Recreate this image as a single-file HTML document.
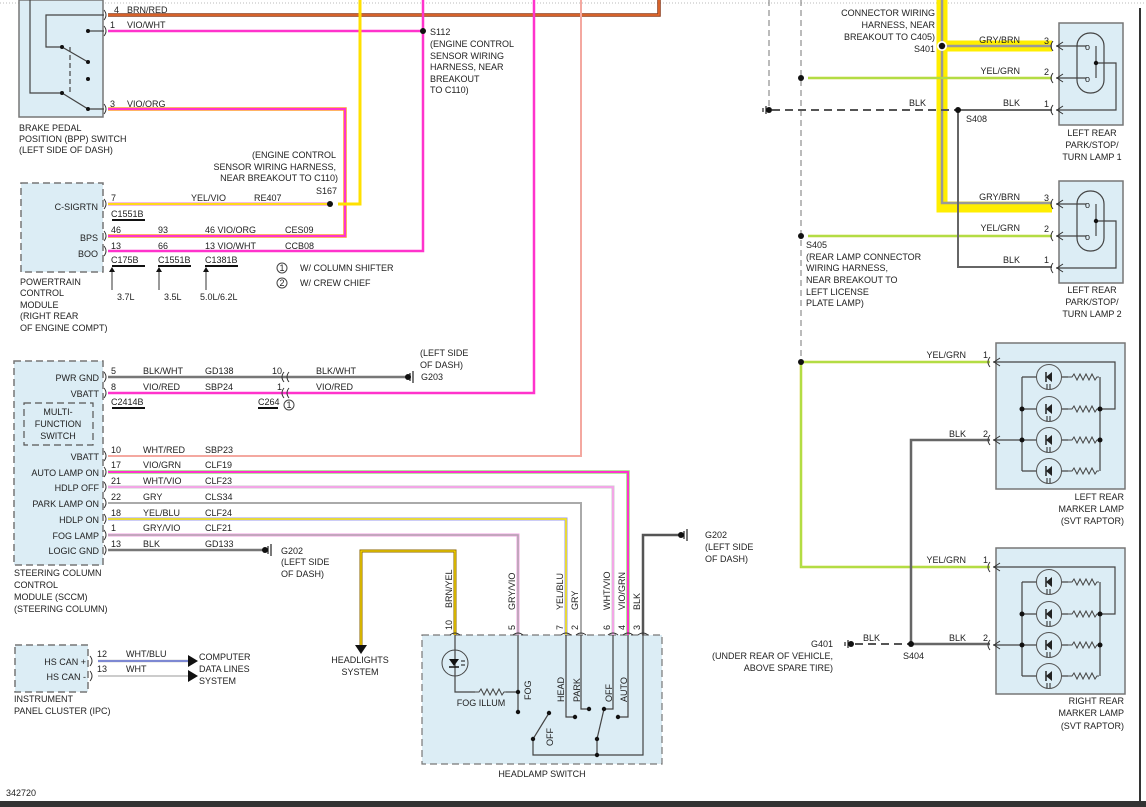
<!DOCTYPE html>
<html><head><meta charset="utf-8"><style>
html,body{margin:0;padding:0;background:#fff;}
svg{display:block;}
text{font-family:"Liberation Sans",Arial,sans-serif;font-size:9px;fill:#222;}
</style></head><body>
<svg width="1146" height="807" viewBox="0 0 1146 807" xmlns="http://www.w3.org/2000/svg">
<defs>
<g id="led">
 <circle cx="0" cy="0" r="12.5" fill="none" stroke="#555" stroke-width="1"/>
 <path d="M3,-5 L-3,0 L3,5 Z" fill="#222"/><line x1="-3" y1="-5" x2="-3" y2="5" stroke="#222" stroke-width="1.5"/>
 <path d="M-2,7 v5 M1,7 v5" stroke="#222" stroke-width="1"/>
</g>
<g id="res"><path d="M0,0 h4 l2,-3 l3,6 l3,-6 l3,6 l3,-6 l3,6 l3,-6 l3,6 l2,-3 h2" fill="none" stroke="#444" stroke-width="1"/></g>
<g id="marker">
 <rect x="0" y="0" width="129" height="146" fill="#dcedf5" stroke="#777" stroke-width="1.5"/>
 <g stroke="#444" stroke-width="1.2" fill="none">
  <path d="M-3,19 H119 V66 H104"/>
  <path d="M-3,97 H26"/>
  <path d="M26,34 V128 M104,34 V128"/>
  <path d="M26,34 H40 M26,66 H40 M26,97 H40 M26,128 H40"/>
  <path d="M66,34 H72 M66,66 H72 M66,97 H72 M66,128 H72"/>
 </g>
 <use href="#led" x="53" y="34"/><use href="#led" x="53" y="66"/><use href="#led" x="53" y="97"/><use href="#led" x="53" y="128"/>
 <use href="#res" x="72" y="34"/><use href="#res" x="72" y="66"/><use href="#res" x="72" y="97"/><use href="#res" x="72" y="128"/>
 <circle cx="26" cy="66" r="2.5" fill="#111"/><circle cx="26" cy="97" r="2.5" fill="#111"/>
 <circle cx="104" cy="66" r="2.5" fill="#111"/><circle cx="104" cy="97" r="2.5" fill="#111"/>
 <path d="M4,15 l-6,4 l6,4 M-6,14 q-4,5 0,10 M4,93 l-6,4 l6,4 M-6,92 q-4,5 0,10" fill="none" stroke="#333" stroke-width="1"/>
</g>
<g id="park">
 <rect x="0" y="0" width="64" height="102" fill="#dcedf5" stroke="#777" stroke-width="1.5"/>
 <rect x="18" y="10" width="27" height="60" rx="13" fill="none" stroke="#444" stroke-width="1.2"/>
 <g stroke="#444" stroke-width="1.2" fill="none">
  <path d="M-3,23 H27 M-3,55 H27 M-3,87 H57 V40 H37"/><path d="M37,23 V55"/>
 </g>
 <text x="26" y="27" font-size="10">o</text><text x="26" y="59" font-size="10">o</text>
 <circle cx="37" cy="40" r="2.2" fill="#111"/>
 <path d="M4,19 l-6,4 l6,4 M-6,18 q-4,5 0,10 M4,51 l-6,4 l6,4 M-6,50 q-4,5 0,10 M4,83 l-6,4 l6,4 M-6,82 q-4,5 0,10" fill="none" stroke="#333" stroke-width="1"/>
</g>
</defs>

<line x1="0" y1="3" x2="1146" y2="3" stroke="#bbb" stroke-dasharray="1,2"/>
<rect x="0" y="801" width="1146" height="6" fill="#333"/>
<line x1="1140" y1="8" x2="1140" y2="801" stroke="#333" stroke-width="2"/>

<!-- boxes -->
<rect x="19" y="0" width="84" height="117" fill="#dcedf5" stroke="#777" stroke-width="1.5"/>
<rect x="21" y="183" width="82" height="89" fill="#dcedf5" stroke="#777" stroke-width="1.5" stroke-dasharray="7,4"/>
<rect x="14" y="361" width="89" height="204" fill="#dcedf5" stroke="#777" stroke-width="1.5" stroke-dasharray="7,4"/>
<rect x="24" y="403" width="69" height="42" fill="#dcedf5" stroke="#555" stroke-width="1.2" stroke-dasharray="7,4"/>
<rect x="15" y="645" width="73" height="47" fill="#dcedf5" stroke="#777" stroke-width="1.5" stroke-dasharray="7,4"/>
<rect x="422" y="635" width="240" height="129" fill="#dcedf5" stroke="#777" stroke-width="1.2" stroke-dasharray="7,4"/>

<!-- BPP switch internals -->
<g stroke="#444" stroke-width="1.2" fill="none">
 <path d="M30,0 V93 H62 L88,109 H104"/>
 <path d="M104,15 H46 V47 H62 L88,62"/>
 <path d="M88,31 H104"/>
 <path d="M70,47 V93" stroke-dasharray="5,3"/>
</g>
<g fill="#111"><circle cx="62" cy="47" r="2"/><circle cx="88" cy="62" r="2"/><circle cx="88" cy="79" r="2"/><circle cx="62" cy="93" r="2"/><circle cx="88" cy="109" r="2"/><circle cx="88" cy="31" r="2"/></g>

<!-- wires top -->
<g fill="none" stroke-linejoin="miter">
 <path d="M108,15 H659 V0" stroke="#8b3a1a" stroke-width="3.5"/><path d="M108,15 H659 V0" stroke="#f07030" stroke-width="1.5"/>
 <path d="M108,31 H423" stroke="#ff33cc" stroke-width="2.5"/>
 <path d="M423,0 V251 H108" stroke="#ff33cc" stroke-width="2.5"/>
 <path d="M108,109 H345 V236 H108" stroke="#ff9a30" stroke-width="3.5"/><path d="M108,109 H345 V236 H108" stroke="#ff33cc" stroke-width="2"/>
 <path d="M360,0 V204 H338" stroke="#ffe000" stroke-width="3"/>
 <path d="M108,204 H330" stroke="#f4a4d8" stroke-width="3.5"/><path d="M108,204 H330" stroke="#ffe000" stroke-width="1.8"/>
 <path d="M534,0 V393 H108" stroke="#ff33cc" stroke-width="2.5"/>
 <path d="M581,0 V456 H108" stroke="#f4a8a0" stroke-width="2"/>
 <path d="M108,472 H628 V635" stroke="#9adf7a" stroke-width="3.5"/><path d="M108,472 H628 V635" stroke="#ff33cc" stroke-width="2"/>
 <path d="M108,487 H613 V635" stroke="#ccc" stroke-width="3"/><path d="M108,487 H613 V635" stroke="#ff99ee" stroke-width="1.5"/>
 <path d="M108,503 H581 V635" stroke="#aaa" stroke-width="2"/>
 <path d="M108,519 H566 V635" stroke="#9999ee" stroke-width="3"/><path d="M108,519 H566 V635" stroke="#ffee00" stroke-width="1.5"/>
 <path d="M108,535 H518 V635" stroke="#f0a0e0" stroke-width="3"/><path d="M108,535 H518 V635" stroke="#aaa" stroke-width="1.3"/>
 <path d="M108,550 H264" stroke="#777" stroke-width="2.5"/>
 <path d="M108,377 H406" stroke="#777" stroke-width="2.5"/>
 <path d="M455,635 V551 H361 V645" stroke="#886600" stroke-width="3"/><path d="M455,635 V551 H361 V645" stroke="#ffdd00" stroke-width="1.3"/>
 <path d="M643,635 V535 H680" stroke="#555" stroke-width="2.5"/>
 <path d="M98,661 H190" stroke="#ddd" stroke-width="3"/><path d="M98,661 H190" stroke="#4455cc" stroke-width="1.2"/>
 <path d="M98,676 H190" stroke="#ccc" stroke-width="2"/>
</g>
<path d="M355,645 h12 l-6,9 z" fill="#111"/>
<path d="M188,655 l10,6 l-10,6 z M188,670 l10,6 l-10,6 z" fill="#111"/>
<circle cx="423" cy="31" r="3" fill="#111"/><circle cx="330" cy="204" r="3" fill="#111"/>

<!-- connector marks left -->
<g fill="none" stroke="#333" stroke-width="1">
 <path d="M104,10 q4,5 0,10 M104,26 q4,5 0,10 M104,104 q4,5 0,10 M104,199 q4,5 0,10 M104,231 q4,5 0,10 M104,246 q4,5 0,10
 M104,372 q4,5 0,10 M104,388 q4,5 0,10 M104,451 q4,5 0,10 M104,467 q4,5 0,10 M104,482 q4,5 0,10 M104,498 q4,5 0,10 M104,514 q4,5 0,10 M104,530 q4,5 0,10 M104,545 q4,5 0,10 M90,656 q4,5 0,10 M90,671 q4,5 0,10"/>
 <path d="M284,372 q-4,5 0,10 M289,372 q-4,5 0,10 M284,388 q-4,5 0,10 M289,388 q-4,5 0,10"/>
 <path d="M450,635 q5,-4 10,0 M513,635 q5,-4 10,0 M561,635 q5,-4 10,0 M576,635 q5,-4 10,0 M608,635 q5,-4 10,0 M623,635 q5,-4 10,0 M638,635 q5,-4 10,0"/>
 <path d="M112,290 V268 M159,290 V268 M206,290 V268"/>
</g>
<path d="M109,267 l3,5 h-6z M156,267 l3,5 h-6z M203,267 l3,5 h-6z" fill="#111" transform="translate(3,0)"/>
<g stroke="#111" stroke-width="2"><path d="M112,220 h33 M158,266 h33 M112,266 h33 M205,266 h33 M112,408 h33 M258,408 h20"/></g>
<!-- grounds -->
<g stroke="#222" stroke-width="1.2"><path d="M410,373 v8 M413,371 v12 M268,546 v8 M271,544 v12 M684,531 v8 M687,529 v12 M766,106 v8 M763,108 v4 M848,640 v8 M845,642 v4"/></g>
<circle cx="408" cy="377" r="3" fill="#111"/><circle cx="265" cy="550" r="3" fill="#111"/><circle cx="681" cy="535" r="3" fill="#111"/><circle cx="769" cy="110" r="3" fill="#111"/><circle cx="851" cy="644" r="3" fill="#111"/>
<circle cx="289" cy="405" r="5" fill="#fff" stroke="#444"/><text x="286.5" y="408" font-size="8">1</text>
<circle cx="282" cy="268" r="5" fill="#fff" stroke="#444"/><text x="279.5" y="271" font-size="8">1</text>
<circle cx="282" cy="283" r="5" fill="#fff" stroke="#444"/><text x="279.5" y="286" font-size="8">2</text>

<!-- headlamp switch internals -->
<g stroke="#444" stroke-width="1.2" fill="none">
 <path d="M455,635 V692 H475"/><use href="#res" x="475" y="692"/><path d="M506,692 H518"/>
 <path d="M518,635 V712 M566,635 V717 H575 M581,635 V709 H589 M613,635 V709 H604 M628,635 V717 H618 M643,635 V755 H533 V739 L549,713 M597,755 V739 L604,709"/>
</g>
<circle cx="455" cy="663" r="13" fill="none" stroke="#444"/>
<path d="M449,659 h10 l-5,7z" fill="#111"/><path d="M449,667 h10" stroke="#111" stroke-width="1.5"/><path d="M461,661 h4 M461,665 h4" stroke="#111"/>
<g fill="#111"><circle cx="518" cy="692" r="2.2"/><circle cx="518" cy="712" r="2.2"/><circle cx="575" cy="717" r="2.2"/><circle cx="589" cy="709" r="2.2"/><circle cx="604" cy="709" r="2.2"/><circle cx="618" cy="717" r="2.2"/><circle cx="533" cy="739" r="2.2"/><circle cx="549" cy="713" r="2.2"/><circle cx="597" cy="739" r="2.2"/><circle cx="597" cy="755" r="2.2"/></g>

<!-- right section -->
<g fill="none">
 <path d="M769,0 V110" stroke="#777" stroke-dasharray="6,4"/>
 <path d="M801,0 V362" stroke="#777" stroke-dasharray="6,4"/>
 <path d="M942,0 V207 H1052 M942,46 H1052" stroke="#ffee00" stroke-width="11"/>
 <path d="M942,0 V203 H1052 M942,46 H1052" stroke="#999" stroke-width="2.5"/>
 <path d="M808,78 H1052 M808,236 H1052 M801,362 H990 M801,362 V567 H990" stroke="#cccc22" stroke-width="2.5"/>
 <path d="M808,78 H1052 M808,236 H1052 M801,362 H990 M801,362 V567 H990" stroke="#99ee66" stroke-width="1"/>
 <path d="M772,110 H958" stroke="#555" stroke-width="2" stroke-dasharray="8,5"/>
 <path d="M958,110 H1052 M958,110 V267 H1052" stroke="#666" stroke-width="2"/>
 <path d="M855,644 H911" stroke="#555" stroke-width="2" stroke-dasharray="8,5"/>
 <path d="M911,644 H990 M911,644 V440 H990" stroke="#666" stroke-width="2.5"/>
</g>
<circle cx="942" cy="46" r="5" fill="#fff"/><circle cx="942" cy="46" r="3.2" fill="#111"/>
<g fill="#111"><circle cx="801" cy="78" r="3"/><circle cx="801" cy="236" r="3"/><circle cx="801" cy="362" r="3"/><circle cx="958" cy="110" r="3"/><circle cx="911" cy="644" r="3"/></g>
<use href="#park" x="1059" y="23"/><use href="#park" x="1059" y="181"/>
<use href="#marker" x="996" y="343"/><use href="#marker" x="996" y="548"/>

<!-- labels -->
<text x="114" y="13">4</text><text x="127" y="13">BRN/RED</text>
<text x="110" y="28">1</text><text x="127" y="28">VIO/WHT</text>
<text x="110" y="107">3</text><text x="127" y="107">VIO/ORG</text>
<text x="19" y="131">BRAKE PEDAL</text><text x="19" y="142">POSITION (BPP) SWITCH</text><text x="19" y="153">(LEFT SIDE OF DASH)</text>
<text x="430" y="35">S112</text><text x="430" y="47">(ENGINE CONTROL</text><text x="430" y="59">SENSOR WIRING</text><text x="430" y="70">HARNESS, NEAR</text><text x="430" y="82">BREAKOUT</text><text x="430" y="93">TO C110)</text>
<g text-anchor="end"><text x="336" y="158">(ENGINE CONTROL</text><text x="336" y="170">SENSOR WIRING HARNESS,</text><text x="338" y="181">NEAR BREAKOUT TO C110)</text><text x="337" y="194">S167</text>
<text x="98" y="210">C-SIGRTN</text><text x="98" y="241">BPS</text><text x="98" y="257">BOO</text></g>
<text x="111" y="201">7</text><text x="191" y="201">YEL/VIO</text><text x="254" y="201">RE407</text><text x="111" y="217">C1551B</text>
<text x="111" y="233">46</text><text x="158" y="233">93</text><text x="205" y="233">46  VIO/ORG</text><text x="285" y="233">CES09</text>
<text x="111" y="249">13</text><text x="158" y="249">66</text><text x="205" y="249">13  VIO/WHT</text><text x="285" y="249">CCB08</text>
<text x="111" y="263">C175B</text><text x="158" y="263">C1551B</text><text x="205" y="263">C1381B</text>
<text x="117" y="300">3.7L</text><text x="164" y="300">3.5L</text><text x="200" y="300">5.0L/6.2L</text>
<text x="300" y="271">W/ COLUMN SHIFTER</text><text x="300" y="286">W/ CREW CHIEF</text>
<text x="20" y="285">POWERTRAIN</text><text x="20" y="296">CONTROL</text><text x="20" y="308">MODULE</text><text x="20" y="319">(RIGHT REAR</text><text x="20" y="331">OF ENGINE COMPT)</text>

<g text-anchor="end"><text x="99" y="381">PWR GND</text><text x="99" y="397">VBATT</text><text x="99" y="460">VBATT</text><text x="99" y="476">AUTO LAMP ON</text><text x="99" y="491">HDLP OFF</text><text x="99" y="507">PARK LAMP ON</text><text x="99" y="523">HDLP ON</text><text x="99" y="539">FOG LAMP</text><text x="99" y="554">LOGIC GND</text><text x="282" y="374">10</text><text x="282" y="390">1</text></g>
<g text-anchor="middle"><text x="58" y="415">MULTI-</text><text x="58" y="427">FUNCTION</text><text x="58" y="439">SWITCH</text></g>
<text x="111" y="374">5</text><text x="143" y="374">BLK/WHT</text><text x="205" y="374">GD138</text><text x="316" y="374">BLK/WHT</text>
<text x="111" y="390">8</text><text x="143" y="390">VIO/RED</text><text x="205" y="390">SBP24</text><text x="316" y="390">VIO/RED</text>
<text x="111" y="405">C2414B</text><text x="258" y="405">C264</text>
<text x="420" y="356">(LEFT SIDE</text><text x="420" y="368">OF DASH)</text><text x="421" y="380">G203</text>
<text x="111" y="453">10</text><text x="143" y="453">WHT/RED</text><text x="205" y="453">SBP23</text>
<text x="111" y="468">17</text><text x="143" y="468">VIO/GRN</text><text x="205" y="468">CLF19</text>
<text x="111" y="484">21</text><text x="143" y="484">WHT/VIO</text><text x="205" y="484">CLF23</text>
<text x="111" y="500">22</text><text x="143" y="500">GRY</text><text x="205" y="500">CLS34</text>
<text x="111" y="516">18</text><text x="143" y="516">YEL/BLU</text><text x="205" y="516">CLF24</text>
<text x="111" y="531">1</text><text x="143" y="531">GRY/VIO</text><text x="205" y="531">CLF21</text>
<text x="111" y="547">13</text><text x="143" y="547">BLK</text><text x="205" y="547">GD133</text>
<text x="281" y="554">G202</text><text x="281" y="565">(LEFT SIDE</text><text x="281" y="577">OF DASH)</text>
<text x="14" y="576">STEERING COLUMN</text><text x="14" y="588">CONTROL</text><text x="14" y="600">MODULE (SCCM)</text><text x="14" y="612">(STEERING COLUMN)</text>
<text x="705" y="538">G202</text><text x="705" y="550">(LEFT SIDE</text><text x="705" y="562">OF DASH)</text>
<g text-anchor="middle"><text x="360" y="663">HEADLIGHTS</text><text x="360" y="675">SYSTEM</text><text x="542" y="777">HEADLAMP SWITCH</text><text x="481" y="706">FOG ILLUM</text></g>
<g transform="rotate(-90)">
 <text x="-608" y="452">BRN/YEL</text><text x="-610" y="515">GRY/VIO</text><text x="-610" y="563">YEL/BLU</text><text x="-610" y="578">GRY</text><text x="-610" y="610">WHT/VIO</text><text x="-610" y="625">VIO/GRN</text><text x="-610" y="640">BLK</text>
 <text x="-630" y="452">10</text><text x="-630" y="515">5</text><text x="-630" y="563">7</text><text x="-630" y="578">2</text><text x="-630" y="610">6</text><text x="-630" y="625">4</text><text x="-630" y="640">3</text>
 <text x="-700" y="531">FOG</text><text x="-702" y="564">HEAD</text><text x="-702" y="580">PARK</text><text x="-702" y="612">OFF</text><text x="-702" y="627">AUTO</text><text x="-746" y="553">OFF</text>
</g>
<text x="97" y="657">12</text><text x="126" y="657">WHT/BLU</text><text x="97" y="672">13</text><text x="126" y="672">WHT</text>
<g text-anchor="end"><text x="86" y="665">HS CAN +</text><text x="86" y="680">HS CAN -</text></g>
<text x="199" y="660">COMPUTER</text><text x="199" y="672">DATA LINES</text><text x="199" y="684">SYSTEM</text>
<text x="14" y="702">INSTRUMENT</text><text x="14" y="714">PANEL CLUSTER (IPC)</text>
<text x="6" y="796">342720</text>

<g text-anchor="end"><text x="935" y="16">CONNECTOR WIRING</text><text x="935" y="28">HARNESS, NEAR</text><text x="935" y="40">BREAKOUT TO C405)</text><text x="935" y="52">S401</text>
<text x="1020" y="43">GRY/BRN</text><text x="1020" y="74">YEL/GRN</text><text x="1020" y="106">BLK</text><text x="1020" y="200">GRY/BRN</text><text x="1020" y="231">YEL/GRN</text><text x="1020" y="263">BLK</text>
<text x="926" y="106">BLK</text>
<text x="966" y="358">YEL/GRN</text><text x="966" y="437">BLK</text><text x="966" y="563">YEL/GRN</text><text x="966" y="641">BLK</text><text x="880" y="641">BLK</text>
<text x="1049" y="44">3</text><text x="1049" y="75">2</text><text x="1049" y="107">1</text><text x="1049" y="201">3</text><text x="1049" y="232">2</text><text x="1049" y="263">1</text>
<text x="988" y="358">1</text><text x="988" y="437">2</text><text x="988" y="563">1</text><text x="988" y="641">2</text>
<text x="833" y="647">G401</text><text x="833" y="659">(UNDER REAR OF VEHICLE,</text><text x="833" y="671">ABOVE SPARE TIRE)</text>
<text x="1124" y="500">LEFT REAR</text><text x="1124" y="512">MARKER LAMP</text><text x="1124" y="524">(SVT RAPTOR)</text>
<text x="1124" y="704">RIGHT REAR</text><text x="1124" y="716">MARKER LAMP</text><text x="1124" y="729">(SVT RAPTOR)</text></g>
<text x="966" y="122">S408</text><text x="903" y="659">S404</text>
<text x="806" y="248">S405</text><text x="806" y="260">(REAR LAMP CONNECTOR</text><text x="806" y="271">WIRING HARNESS,</text><text x="806" y="283">NEAR BREAKOUT TO</text><text x="806" y="295">LEFT LICENSE</text><text x="806" y="306">PLATE LAMP)</text>
<g text-anchor="middle"><text x="1092" y="136">LEFT REAR</text><text x="1092" y="148">PARK/STOP/</text><text x="1092" y="160">TURN LAMP 1</text><text x="1092" y="293">LEFT REAR</text><text x="1092" y="305">PARK/STOP/</text><text x="1092" y="317">TURN LAMP 2</text></g>
</svg>
</body></html>
